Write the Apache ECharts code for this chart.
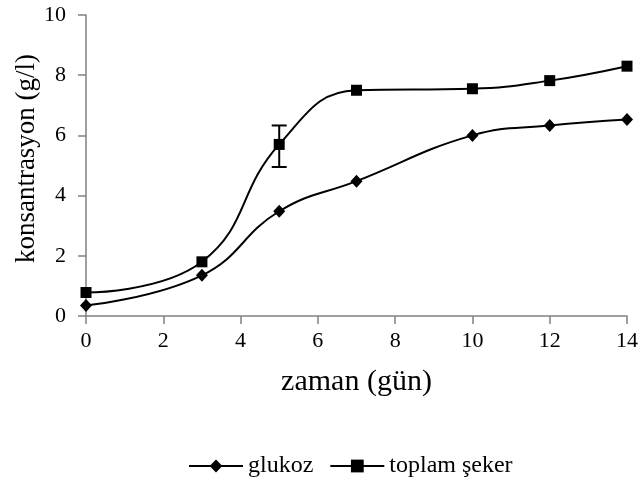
<!DOCTYPE html>
<html>
<head>
<meta charset="utf-8">
<script src="https://cdn.jsdelivr.net/npm/echarts@6/dist/echarts.min.js"></script>
<style>
  html, body { margin: 0; padding: 0; background: #fff; }
  #chart { width: 642px; height: 499px; }
</style>
</head>
<body>
<div id="chart"></div>
<script>
// Sampling days
var days = [0, 3, 5, 7, 10, 12, 14];
// Glucose concentration (g/l)
var glukoz = [0.35, 1.35, 3.48, 4.48, 6.0, 6.33, 6.53];
// Total sugar concentration (g/l)
var toplamSeker = [0.78, 1.8, 5.7, 7.5, 7.55, 7.82, 8.3];
// Error bars on total sugar: [day, low, high]
var toplamErr = [[5, 4.95, 6.33]];
// Axis ticks
var xTicks = [0, 2, 4, 6, 8, 10, 12, 14];
var yTicks = [0, 2, 4, 6, 8, 10];

function pairs(xs, ys) { return xs.map(function (x, i) { return [x, ys[i]]; }); }

var font = 'Liberation Serif, Times New Roman, serif';
var chart = echarts.init(document.getElementById('chart'));
chart.setOption({
  animation: false,
  backgroundColor: '#fff',
  grid: { left: 86, right: 15, top: 15, bottom: 183 },
  legend: {
    top: 449,
    left: 183,
    itemWidth: 54,
    itemHeight: 16,
    itemGap: 16,
    textStyle: { fontFamily: font, fontSize: 24, color: '#000' },
    data: ['glukoz', 'toplam şeker']
  },
  xAxis: {
    type: 'value',
    min: xTicks[0], max: xTicks[xTicks.length - 1], interval: 2,
    name: 'zaman (gün)', nameLocation: 'middle', nameGap: 51,
    nameMoveOverlap: false,
    nameTextStyle: { fontFamily: font, fontSize: 30, color: '#000' },
    axisLine: { lineStyle: { color: '#808080', width: 1.5 } },
    axisTick: { length: 8, lineStyle: { color: '#808080', width: 1.5 } },
    axisLabel: { fontFamily: font, fontSize: 22, color: '#000', margin: 14 },
    splitLine: { show: false }
  },
  yAxis: {
    type: 'value',
    min: yTicks[0], max: yTicks[yTicks.length - 1], interval: 2,
    name: 'konsantrasyon (g/l)', nameLocation: 'middle', nameGap: 46,
    nameMoveOverlap: false,
    nameTextStyle: { fontFamily: font, fontSize: 27, color: '#000', padding: [0, 0, 0, 14] },
    axisLine: { show: true, lineStyle: { color: '#808080', width: 1.5 } },
    axisTick: { show: true, length: 8, lineStyle: { color: '#808080', width: 1.5 } },
    axisLabel: { fontFamily: font, fontSize: 22, color: '#000', margin: 20 },
    splitLine: { show: false }
  },
  series: [
    {
      name: 'glukoz', type: 'line', smooth: 0.45,
      data: pairs(days, glukoz),
      symbol: 'diamond', symbolSize: [12, 13],
      lineStyle: { color: '#000', width: 2 },
      itemStyle: { color: '#000' },
      z: 3
    },
    {
      name: 'toplam şeker', type: 'line', smooth: 0.45,
      data: pairs(days, toplamSeker),
      symbol: 'rect', symbolSize: 11,
      lineStyle: { color: '#000', width: 2 },
      itemStyle: { color: '#000' },
      z: 3
    },
    {
      type: 'custom',
      data: toplamErr,
      z: 4,
      renderItem: function (params, api) {
        var x = api.value(0);
        var lo = api.coord([x, api.value(1)]);
        var hi = api.coord([x, api.value(2)]);
        var w = 7.5;
        var st = { stroke: '#000', lineWidth: 2 };
        return {
          type: 'group',
          children: [
            { type: 'line', shape: { x1: lo[0], y1: lo[1], x2: hi[0], y2: hi[1] }, style: st },
            { type: 'line', shape: { x1: lo[0] - w, y1: lo[1], x2: lo[0] + w, y2: lo[1] }, style: st },
            { type: 'line', shape: { x1: hi[0] - w, y1: hi[1], x2: hi[0] + w, y2: hi[1] }, style: st }
          ]
        };
      }
    }
  ]
});
</script>
</body>
</html>
